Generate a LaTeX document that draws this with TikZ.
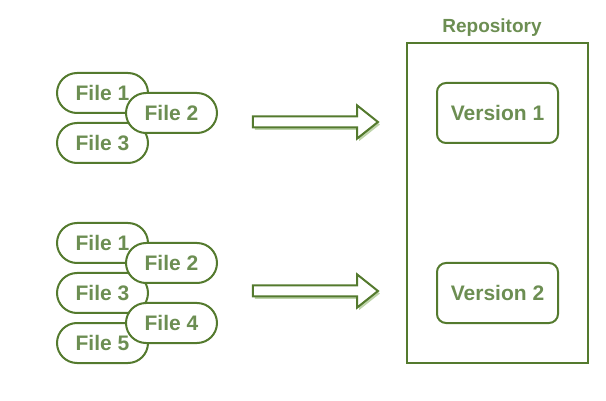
\documentclass[tikz,border=0pt]{standalone}
\usepackage{fontspec}
\setmainfont{Liberation Sans}
\definecolor{gitgreen}{RGB}{84,122,46}
\definecolor{gittext}{RGB}{108,142,82}
\definecolor{gitshade}{RGB}{190,212,170}
\usetikzlibrary{shapes.arrows}
\usetikzlibrary{shadows}
\tikzset{
  every picture/.style={/utils/exec={\bfseries}},
  filepill/.style={draw=gitgreen, line width=2pt, fill=white, text=gittext,
    rounded corners=20pt, minimum width=91pt, minimum height=40pt,
    font=\fontsize{21}{25}\selectfont\bfseries},
  versionbox/.style={draw=gitgreen, line width=2pt, fill=white, text=gittext,
    rounded corners=9pt, minimum width=121pt, minimum height=60pt,
    font=\fontsize{21}{25}\selectfont\bfseries},
  commitarrow/.style={single arrow, draw=gitgreen, line width=2pt, fill=white,
    minimum height=125pt, single arrow head extend=11pt,
    single arrow tip angle=77, single arrow head indent=0pt, inner sep=4.5pt,
    general shadow={shadow xshift=2pt, shadow yshift=-2.5pt, fill=gitshade}}
}

\begin{document}
\begin{tikzpicture}[x=1pt, y=-1pt]
  \useasboundingbox (0,0) rectangle (606,401);

  % first commit: three files
  \node [filepill] (fa1) at (102.5,93)  {File 1};
  \node [filepill] (fa3) at (102.5,143) {File 3};
  \node [filepill] (fa2) at (171.5,113) {File 2};

  % second commit: five files
  \node [filepill] (fb1) at (102.5,243) {File 1};
  \node [filepill] (fb3) at (102.5,293) {File 3};
  \node [filepill] (fb5) at (102.5,343) {File 5};
  \node [filepill] (fb2) at (171.5,263) {File 2};
  \node [filepill] (fb4) at (171.5,323) {File 4};

  % repository
  \node [draw=gitgreen, line width=2.5pt, minimum width=181pt, minimum height=320pt]
    (repo) at (497.5,203) {};
  \node [text=gittext, font=\fontsize{19}{23}\selectfont\bfseries]
    (repolabel) at (492,28) {Repository};
  \node [versionbox] (v1) at (497.5,113) {Version 1};
  \node [versionbox] (v2) at (497.5,293) {Version 2};

  % commit arrows
  \node [commitarrow] (commitA) at (312,122) {};
  \node [commitarrow] (commitB) at (312,291) {};

\end{tikzpicture}
\end{document}
